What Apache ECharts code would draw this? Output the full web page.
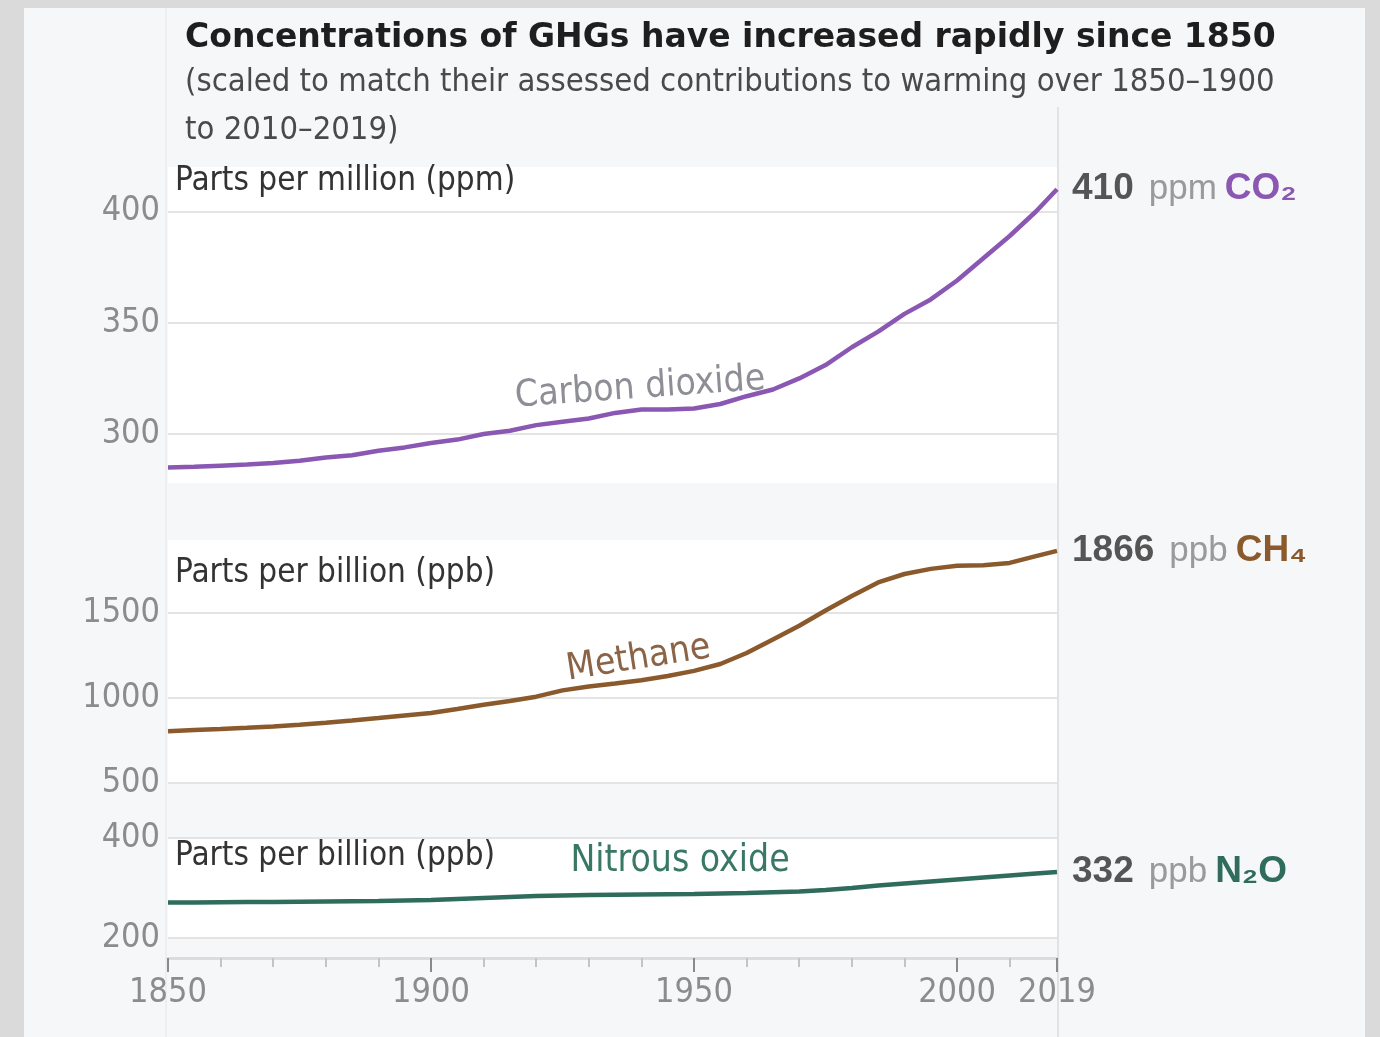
<!DOCTYPE html>
<html>
<head>
<meta charset="utf-8">
<script src="https://cdn.jsdelivr.net/npm/echarts@6/dist/echarts.min.js"></script>
<style>
  html, body { margin: 0; padding: 0; background: #dadada; }
  #main { position: absolute; left: 24px; top: 8px; width: 1341px; height: 1029px; background: #f6f7f9; }
</style>
</head>
<body>
<div id="main"></div>
<script>
// data (5-year steps)
var years = [1850, 1855, 1860, 1865, 1870, 1875, 1880, 1885, 1890, 1895, 1900, 1905, 1910, 1915, 1920, 1925, 1930, 1935,
  1940, 1945, 1950, 1955, 1960, 1965, 1970, 1975, 1980, 1985, 1990, 1995, 2000, 2005, 2010, 2015, 2019];
var co2 = [285, 285.3, 285.8, 286.3, 287, 288, 289.5, 290.5, 292.5, 294, 296, 297.5, 300, 301.5, 304, 305.5, 307, 309.5,
  311, 311, 311.5, 313.5, 317, 320, 325, 331, 339, 346, 354, 360.5, 369, 379, 389, 400, 410];
var ch4 = [805, 812, 818, 825, 833, 843, 855, 868, 882, 897, 912, 935, 960, 982, 1008, 1045, 1068, 1085,
  1105, 1130, 1160, 1200, 1265, 1345, 1425, 1515, 1600, 1680, 1730, 1760, 1778, 1782, 1795, 1835, 1866];
var n2o = [271, 271.2, 271.5, 271.8, 272, 272.5, 273, 273.5, 274, 275, 276, 278, 280, 282, 284, 285, 286, 286.5,
  287, 287.5, 288, 289, 290, 291.5, 293, 296, 300, 305, 309, 313, 317, 321, 325, 329, 332];

var co2Ticks = [300, 350, 400];
var ch4Ticks = [500, 1000, 1500];
var n2oTicks = [200, 400];
var yearTicks = [1850, 1900, 1950, 2000, 2019];

var narrow = "'Liberation Sans Narrow', 'DejaVu Sans Condensed', sans-serif";
var sans = "'Liberation Sans', Arial, sans-serif";

var purple = "#8a57b3";
var brown = "#8b5a2c";
var teal = "#2f6c5b";

function plain(v) {
  return String(v);
}

function pairs(values, labelYear, label) {
  return years.map(function (y, i) {
    var item = { value: [y, values[i]] };
    if (y === labelYear) {
      item.symbol = "circle";
      item.symbolSize = 0;
      item.label = label;
    }
    return item;
  });
}

function endRich(color) {
  return {
    v: { fontFamily: sans, fontWeight: "bold", fontSize: 37, color: "#555" },
    u: { fontFamily: sans, fontSize: 35, color: "#9a9a9a", padding: [0, 8, 0, 15] },
    g: { fontFamily: sans, fontWeight: "bold", fontSize: 37, color: color }
  };
}

function yAxisFor(grid, min, max, ticks, name, nameGap) {
  return {
    gridIndex: grid,
    type: "value",
    min: min,
    max: max,
    axisLine: { show: false },
    axisTick: { show: false, customValues: ticks },
    axisLabel: { customValues: ticks, formatter: plain, color: "#8c8c8c", fontSize: 34, fontFamily: narrow, margin: 8 },
    splitLine: { show: true, lineStyle: { color: "#e4e4e4", width: 2 } },
    name: name,
    nameLocation: "end",
    nameGap: nameGap,
    nameTextStyle: { align: "left", verticalAlign: "top", fontSize: 33, fontFamily: narrow, color: "#333", padding: [0, 0, 0, 7] }
  };
}

var myChart = echarts.init(document.getElementById("main"));
myChart.setOption({
  animation: false,
  title: [
    {
      text: "Concentrations of GHGs have increased rapidly since 1850",
      left: 156,
      top: 9,
      textStyle: { fontFamily: "'DejaVu Sans', sans-serif", fontWeight: "bold", fontSize: 33, color: "#1e1e1e" }
    },
    {
      text: "(scaled to match their assessed contributions to warming over 1850–1900\nto 2010–2019)",
      left: 156,
      top: 46,
      textStyle: { fontFamily: narrow, fontWeight: "normal", fontSize: 32.5, lineHeight: 48, color: "#4a4a4a" }
    }
  ],
  graphic: [
    { type: "line", z: -1, shape: { x1: 1034, y1: 99, x2: 1034, y2: 1029 }, style: { stroke: "#e2e2e2", lineWidth: 2 } },
    { type: "line", z: -1, shape: { x1: 142, y1: 0, x2: 142, y2: 1029 }, style: { stroke: "#eceef0", lineWidth: 2 } }
  ],
  grid: [
    { left: 144, width: 889, top: 159, height: 316, show: true, backgroundColor: "#fff", borderWidth: 0 },
    { left: 144, width: 889, top: 532, height: 243, show: true, backgroundColor: "#fff", borderWidth: 0 },
    { left: 144, width: 889, top: 830, height: 100, show: true, backgroundColor: "#fff", borderWidth: 0 }
  ],
  xAxis: [
    { gridIndex: 0, type: "value", min: 1850, max: 2019, show: false },
    { gridIndex: 1, type: "value", min: 1850, max: 2019, show: false },
    {
      gridIndex: 2, type: "value", min: 1850, max: 2019, interval: 10, position: "bottom", offset: 20,
      axisLine: { show: true, lineStyle: { color: "#dcdcdc", width: 3 } },
      axisTick: { show: true, length: 9, lineStyle: { color: "#c4c4c4", width: 2 } },
      axisLabel: { show: false },
      splitLine: { show: false }
    },
    {
      gridIndex: 2, type: "value", min: 1850, max: 2019, position: "bottom", offset: 20,
      axisLine: { show: false },
      axisTick: { show: true, length: 14, customValues: yearTicks, lineStyle: { color: "#8a8a8a", width: 2 } },
      axisLabel: {
        customValues: yearTicks, formatter: plain, hideOverlap: false, showMaxLabel: true,
        color: "#8c8c8c", fontSize: 34, fontFamily: narrow, margin: 18
      },
      splitLine: { show: false }
    }
  ],
  yAxis: [
    yAxisFor(0, 278, 420, co2Ticks, "Parts per million (ppm)", 2),
    yAxisFor(1, 500, 1930, ch4Ticks, "Parts per billion (ppb)", -17),
    yAxisFor(2, 200, 400, n2oTicks, "Parts per billion (ppb)", -2)
  ],
  series: [
    {
      name: "Carbon dioxide",
      type: "line",
      xAxisIndex: 0,
      yAxisIndex: 0,
      symbol: "none",
      lineStyle: { color: purple, width: 4.5 },
      data: pairs(co2, 1940, {
        show: true, formatter: "Carbon dioxide", position: "top", distance: 3, rotate: 4,
        fontSize: 37, fontFamily: narrow, color: "#8e8e96"
      }),
      endLabel: {
        show: true, distance: 15,
        formatter: function (p) { return "{v|" + p.value[1] + "}{u|ppm}{g|CO₂}"; },
        rich: endRich(purple)
      }
    },
    {
      name: "Methane",
      type: "line",
      xAxisIndex: 1,
      yAxisIndex: 1,
      symbol: "none",
      lineStyle: { color: brown, width: 4.5 },
      data: pairs(ch4, 1940, {
        show: true, formatter: "Methane", position: "top", distance: 3, rotate: 9,
        fontSize: 37, fontFamily: narrow, color: "#8b6448"
      }),
      endLabel: {
        show: true, distance: 15,
        formatter: function (p) { return "{v|" + p.value[1] + "}{u|ppb}{g|CH₄}"; },
        rich: endRich(brown)
      }
    },
    {
      name: "Nitrous oxide",
      type: "line",
      xAxisIndex: 2,
      yAxisIndex: 2,
      symbol: "none",
      lineStyle: { color: teal, width: 4.5 },
      data: pairs(n2o, 1950, {
        show: true, formatter: "Nitrous oxide", position: "top", distance: 14, offset: [-14, 0],
        fontSize: 37, fontFamily: narrow, color: "#3a7866"
      }),
      endLabel: {
        show: true, distance: 15,
        formatter: function (p) { return "{v|" + p.value[1] + "}{u|ppb}{g|N₂O}"; },
        rich: endRich(teal)
      }
    }
  ]
});
window.addEventListener("resize", function () { myChart.resize(); });
</script>
</body>
</html>
